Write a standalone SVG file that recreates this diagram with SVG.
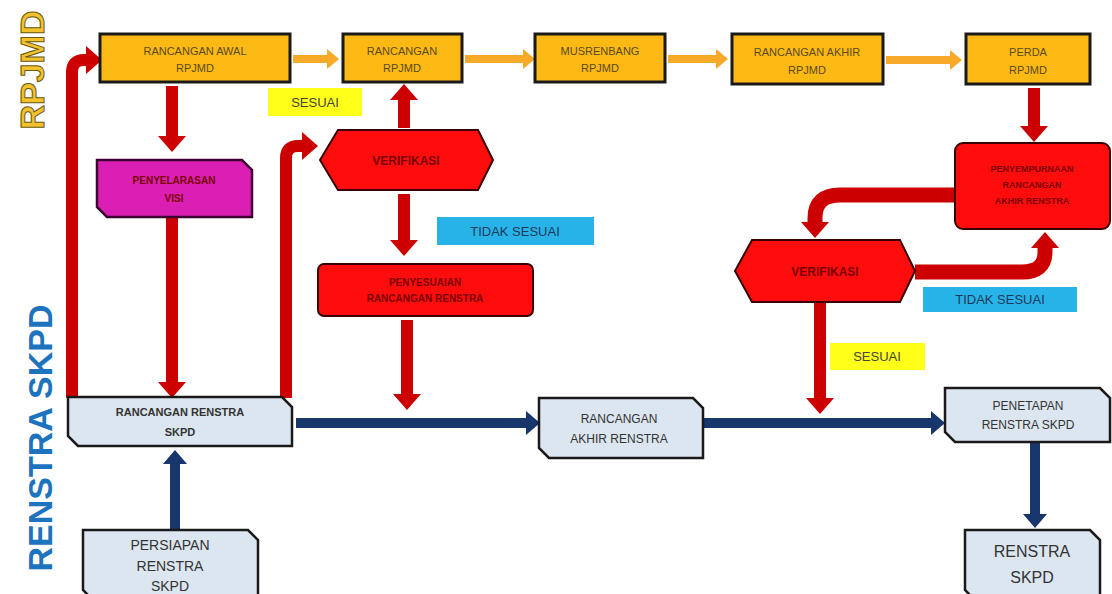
<svg xmlns="http://www.w3.org/2000/svg" width="1112" height="594" viewBox="0 0 1112 594">
<defs>
<style>
.ob{fill:#FDB913;stroke:#1a1a1a;stroke-width:3}
.ot{font-family:"Liberation Sans",Arial,sans-serif;font-size:11px;fill:#5a4a20;text-anchor:middle}
.rb{fill:#FF0D0D;stroke:#3a0000;stroke-width:2}
.rt{font-family:"Liberation Sans",Arial,sans-serif;font-size:10px;font-weight:bold;fill:#7a0000;text-anchor:middle}
.lb{fill:#DCE6F0;stroke:#1a1a1a;stroke-width:2.5}
.lt{font-family:"Liberation Sans",Arial,sans-serif;font-size:12px;fill:#333;text-anchor:middle}
.red{fill:none;stroke:#CC0000;stroke-width:12}
.navy{fill:none;stroke:#17366B;stroke-width:10}
.org{fill:none;stroke:#F7A928;stroke-width:8}
.lbl{font-family:"Liberation Sans",Arial,sans-serif;font-size:13px;text-anchor:middle}
</style>
<marker id="ar" markerUnits="userSpaceOnUse" markerWidth="28" markerHeight="28" viewBox="0 0 16 28" refX="0" refY="14" orient="auto"><path d="M0,0 L16,14 L0,28 z" fill="#CC0000"/></marker>
<marker id="an" markerUnits="userSpaceOnUse" markerWidth="24" markerHeight="24" viewBox="0 0 14 24" refX="0" refY="12" orient="auto"><path d="M0,0 L14,12 L0,24 z" fill="#17366B"/></marker>
<marker id="ao" markerUnits="userSpaceOnUse" markerWidth="20" markerHeight="20" viewBox="0 0 12 20" refX="0" refY="10" orient="auto"><path d="M0,0 L12,10 L0,20 z" fill="#F7A928"/></marker>
</defs>
<rect width="1112" height="594" fill="#ffffff"/>

<text x="0" y="0" transform="translate(44,70) rotate(-90)" font-family="Liberation Sans,Arial,sans-serif" font-size="34" font-weight="bold" fill="#F2C12E" stroke="#6b5a10" stroke-width="1" text-anchor="middle">RPJMD</text>
<text x="0" y="0" transform="translate(52,438) rotate(-90)" font-family="Liberation Sans,Arial,sans-serif" font-size="34" font-weight="bold" fill="#1E73BE" text-anchor="middle">RENSTRA SKPD</text>

<g id="connectors">
<path class="org" d="M293,59 L327,59" marker-end="url(#ao)"/>
<path class="org" d="M465,59 L523,59" marker-end="url(#ao)"/>
<path class="org" d="M668,59 L716,59" marker-end="url(#ao)"/>
<path class="org" d="M886,60 L950,60" marker-end="url(#ao)"/>
<path class="red" d="M172,86 L172,136" marker-end="url(#ar)"/>
<path class="red" d="M172,218 L172,382" marker-end="url(#ar)"/>
<path class="red" d="M72,398 L72,72 Q72,60 84,60 L86,60" marker-end="url(#ar)"/>
<path class="red" d="M286,398 L286,158 Q286,146 298,146 L302,146" marker-end="url(#ar)"/>
<path class="red" d="M404,128 L404,100" marker-end="url(#ar)"/>
<path class="red" d="M404,194 L404,240" marker-end="url(#ar)"/>
<path class="red" d="M407,320 L407,394" marker-end="url(#ar)"/>
<path class="red" d="M1034,88 L1034,126" marker-end="url(#ar)"/>
<path class="red" style="stroke-width:15" d="M955,195 L840,195 Q815,195 815,218 L815,222" marker-end="url(#ar)"/>
<path class="red" style="stroke-width:15" d="M915,272 L1022,272 Q1045,272 1045,252 L1045,248" marker-end="url(#ar)"/>
<path class="red" d="M820,302 L820,398" marker-end="url(#ar)"/>
<path class="navy" d="M296,423 L526,423" marker-end="url(#an)"/>
<path class="navy" d="M703,423 L931,423" marker-end="url(#an)"/>
<path class="navy" d="M1035,442 L1035,514" marker-end="url(#an)"/>
<path class="navy" d="M175,530 L175,464" marker-end="url(#an)"/>
</g>

<g id="n1"><rect class="ob" x="100" y="34" width="190" height="48"/><text class="ot" x="195" y="55">RANCANGAN AWAL</text><text class="ot" x="195" y="72">RPJMD</text></g>
<g id="n2"><rect class="ob" x="343" y="34" width="119" height="48"/><text class="ot" x="402" y="55">RANCANGAN</text><text class="ot" x="402" y="72">RPJMD</text></g>
<g id="n3"><rect class="ob" x="535" y="34" width="130" height="48"/><text class="ot" x="600" y="55">MUSRENBANG</text><text class="ot" x="600" y="72">RPJMD</text></g>
<g id="n4"><rect class="ob" x="732" y="34" width="151" height="50"/><text class="ot" x="807" y="56">RANCANGAN AKHIR</text><text class="ot" x="807" y="74">RPJMD</text></g>
<g id="n5"><rect class="ob" x="966" y="34" width="124" height="50"/><text class="ot" x="1028" y="56">PERDA</text><text class="ot" x="1028" y="74">RPJMD</text></g>

<g id="l1"><rect x="268" y="88" width="94" height="28" fill="#FFFF1A"/><text class="lbl" x="315" y="107" fill="#444">SESUAI</text></g>

<g id="n6"><polygon points="97,160 242,160 252,170 252,217 107,217 97,207" fill="#DC1FB4" stroke="#3d0030" stroke-width="2.5"/><text class="rt" x="174" y="184" fill="#5a0040">PENYELARASAN</text><text class="rt" x="174" y="202" fill="#5a0040">VISI</text></g>

<g id="n7"><polygon points="320,160 338,130 478,130 493,160 478,190 338,190" class="rb"/><text class="rt" x="406" y="165" style="font-size:12px">VERIFIKASI</text></g>

<g id="l2"><rect x="437" y="217" width="157" height="28" fill="#27B3E8"/><text class="lbl" x="515" y="236" fill="#1d3a5a">TIDAK SESUAI</text></g>

<g id="n8"><rect x="318" y="264" width="215" height="52" rx="6" class="rb"/><text class="rt" x="425" y="286">PENYESUAIAN</text><text class="rt" x="425" y="302">RANCANGAN RENSTRA</text></g>

<g id="n9"><rect x="955" y="143" width="155" height="86" rx="8" class="rb"/><text class="rt" x="1032" y="172" style="font-size:9px">PENYEMPURNAAN</text><text class="rt" x="1032" y="188" style="font-size:9px">RANCANGAN</text><text class="rt" x="1032" y="204" style="font-size:9px">AKHIR RENSTRA</text></g>

<g id="n10"><polygon points="735,271 752,240 900,240 915,271 900,302 752,302" class="rb"/><text class="rt" x="825" y="276" style="font-size:12px">VERIFIKASI</text></g>

<g id="l3"><rect x="923" y="287" width="154" height="25" fill="#27B3E8"/><text class="lbl" x="1000" y="304" fill="#1d3a5a">TIDAK SESUAI</text></g>

<g id="l4"><rect x="830" y="343" width="95" height="27" fill="#FFFF1A"/><text class="lbl" x="877" y="361" fill="#444">SESUAI</text></g>

<g id="n11"><polygon points="68,397 282,397 292,407 292,446 78,446 68,436" class="lb"/><text class="lt" x="180" y="416" style="font-size:11px;font-weight:bold">RANCANGAN RENSTRA</text><text class="lt" x="180" y="436" style="font-size:11px;font-weight:bold">SKPD</text></g>

<g id="n12"><polygon points="539,398 693,398 703,408 703,458 549,458 539,448" class="lb"/><text class="lt" x="619" y="423">RANCANGAN</text><text class="lt" x="619" y="443">AKHIR RENSTRA</text></g>

<g id="n13"><polygon points="945,388 1100,388 1110,398 1110,442 955,442 945,432" class="lb"/><text class="lt" x="1028" y="410">PENETAPAN</text><text class="lt" x="1028" y="429">RENSTRA SKPD</text></g>

<g id="n14"><polygon points="965,530 1090,530 1100,540 1100,600 975,600 965,590" class="lb"/><text class="lt" x="1032" y="557" style="font-size:16px">RENSTRA</text><text class="lt" x="1032" y="583" style="font-size:16px">SKPD</text></g>

<g id="n15"><polygon points="83,530 248,530 258,540 258,600 93,600 83,590" class="lb"/><text class="lt" x="170" y="550" style="font-size:14px">PERSIAPAN</text><text class="lt" x="170" y="571" style="font-size:14px">RENSTRA</text><text class="lt" x="170" y="591" style="font-size:14px">SKPD</text></g>
</svg>
